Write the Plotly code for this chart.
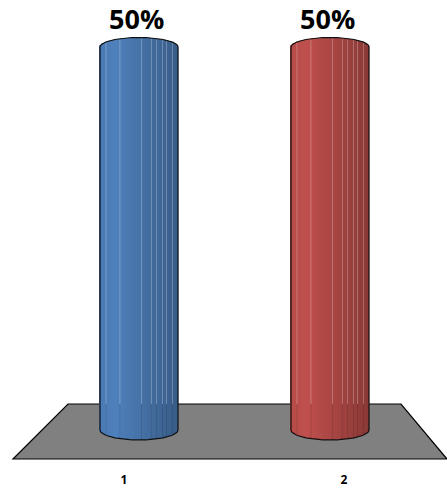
import numpy as np
import plotly.graph_objects as go

categories = [1, 2]
values = [50, 50]
value_labels = ["50%", "50%"]
tick_labels = ["1", "2"]
tick_positions = [0.921, 2.073]
label_positions = [0.986, 1.985]
colors = [(79, 129, 189), (192, 80, 77)]
stripe_offsets = [-0.173, -0.10, 0.013, 0.065, 0.092, 0.123, 0.144, 0.175]

W, H = 447, 491
BOTTOM = 20
PX_X = 191.0
PX_Y = 7.66
x_range = [1 - 139 / PX_X, 1 + (W - 139) / PX_X]
y_range = [(430 - (H - BOTTOM)) / PX_Y, (430 - 0) / PX_Y]
half = 39 / PX_X
cap_top = 9.5 / PX_Y
cap_bot = 10 / PX_Y
floor_edge = 26 / PX_Y

fig = go.Figure()


def shade(c, t):
    if t < 0.2:
        f = 0.94 + 0.06 * t / 0.2
    else:
        f = 1.0 - 0.28 * (t - 0.2) / 0.8
    return "rgb(%d,%d,%d)" % tuple(min(255, int(v * f)) for v in c)


for cat, val, col in zip(categories, values, colors):
    n = 52
    edges = np.linspace(-half, half, n + 1)
    mid = (edges[:-1] + edges[1:]) / 2
    u = mid / half
    arc = np.sqrt(1 - u**2)
    base = -cap_bot * arc
    top = val + cap_top * arc
    fig.add_trace(go.Bar(
        x=cat + mid, y=top - base, base=base,
        width=(edges[1] - edges[0]) * 1.25,
        marker=dict(color=[shade(col, (m + half) / (2 * half)) for m in mid], line_width=0),
        showlegend=False, hoverinfo="skip",
    ))
    for off in stripe_offsets:
        a = np.sqrt(max(0, 1 - (off / half) ** 2))
        fig.add_trace(go.Scatter(
            x=[cat + off, cat + off], y=[floor_edge, val + cap_top * a - 0.1], mode="lines",
            line=dict(color="rgba(255,255,255,0.26)", width=1),
            showlegend=False, hoverinfo="skip",
        ))
        fig.add_trace(go.Scatter(
            x=[cat + off, cat + off], y=[-cap_bot * a, floor_edge], mode="lines",
            line=dict(color="rgba(0,0,0,0.10)", width=1),
            showlegend=False, hoverinfo="skip",
        ))
    th = np.linspace(0, np.pi, 60)
    ox = np.concatenate([cat - half * np.cos(th), cat + half * np.cos(th), [cat - half]])
    oy = np.concatenate([val + cap_top * np.sin(th), -cap_bot * np.sin(th), [val]])
    fig.add_trace(go.Scatter(
        x=ox, y=oy, mode="lines", line=dict(color="#111111", width=1.2),
        showlegend=False, hoverinfo="skip",
    ))

for lx, val, text in zip(label_positions, values, value_labels):
    fig.add_annotation(
        x=lx, y=val, text=text, showarrow=False, xanchor="center", yanchor="middle",
        yshift=29, font=dict(family="Open Sans", size=27, color="#000000", weight=700),
    )

floor_path = "M %f %f L %f %f L %f %f L %f %f Z" % (
    68 / W, 1 - 404 / (H - BOTTOM),
    401 / W, 1 - 404 / (H - BOTTOM),
    447 / W, 1 - 459 / (H - BOTTOM),
    13 / W, 1 - 459 / (H - BOTTOM),
)
fig.add_shape(type="path", path=floor_path, xref="paper", yref="paper",
              fillcolor="#808080", line=dict(color="#000000", width=1.2), layer="below")

fig.update_layout(
    width=W, height=H, margin=dict(l=0, r=0, t=0, b=BOTTOM),
    paper_bgcolor="#ffffff", plot_bgcolor="#ffffff", barmode="overlay",
    xaxis=dict(range=x_range, showgrid=False, zeroline=False, showline=False,
               tickmode="array", tickvals=tick_positions, ticktext=tick_labels,
               ticks="", tickfont=dict(family="Open Sans", size=12, color="#000000", weight=700)),
    yaxis=dict(range=y_range, visible=False),
)
fig.write_html("out.html", config={"displayModeBar": False},
               post_script="document.documentElement.style.margin='0';document.body.style.margin='0';document.body.style.overflow='hidden';")
